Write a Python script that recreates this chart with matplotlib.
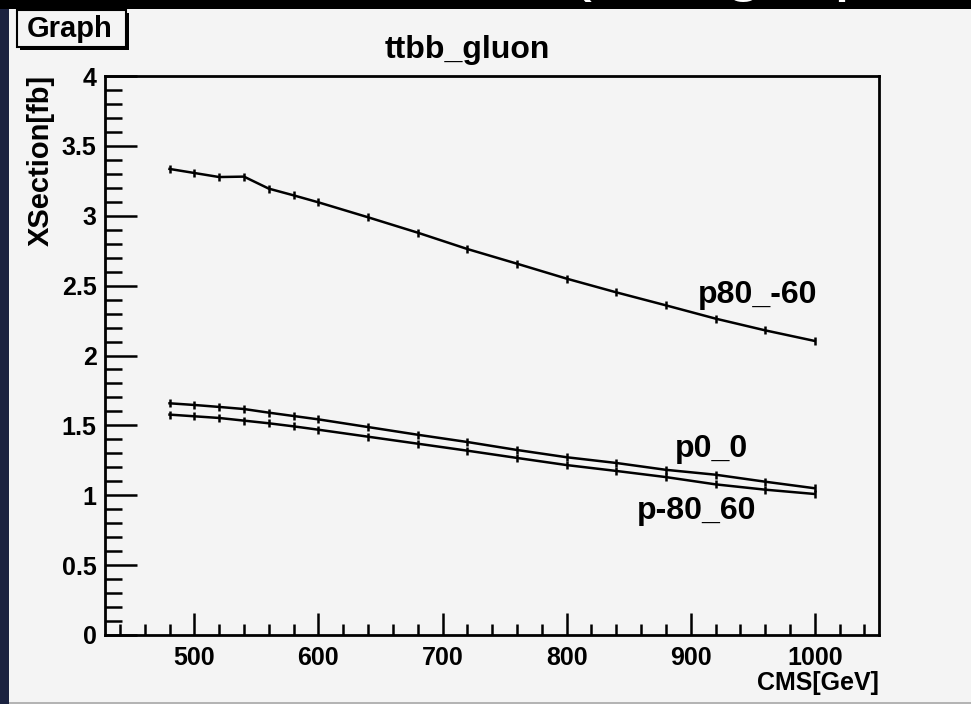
"""
plot.py — ttbb_gluon cross section vs CMS energy, ROOT-style TGraph look
"""

import matplotlib
matplotlib.use("Agg")
import matplotlib.pyplot as plt
from matplotlib.patches import Rectangle
from matplotlib.ticker import MultipleLocator

plt.rcParams["font.family"] = ["Liberation Sans", "DejaVu Sans"]
plt.rcParams["font.weight"] = "bold"

W, H = 971, 704

# ── Data ────────────────────────────────────────────────────────────────────
cms_gev = [480, 500, 520, 540, 560, 580, 600, 640, 680, 720, 760,
           800, 840, 880, 920, 960, 1000]
xsec_p80_m60 = [3.335, 3.306, 3.277, 3.280, 3.194, 3.146, 3.096, 2.989, 2.879,
                2.762, 2.657, 2.550, 2.452, 2.359, 2.264, 2.180, 2.104]
xsec_p0_0 = [1.658, 1.646, 1.632, 1.617, 1.591, 1.567, 1.543, 1.488, 1.433,
             1.381, 1.324, 1.272, 1.231, 1.182, 1.147, 1.097, 1.050]
xsec_m80_60 = [1.577, 1.565, 1.553, 1.534, 1.515, 1.493, 1.469, 1.419, 1.369,
               1.319, 1.267, 1.216, 1.174, 1.130, 1.078, 1.040, 1.009]
xsec_err = 0.028

series = [
    ("p80_-60", xsec_p80_m60, (906, 2.376)),
    ("p0_0",    xsec_p0_0,    (887, 1.271)),
    ("p-80_60", xsec_m80_60,  (857, 0.830)),
]

x_ticks = [500, 600, 700, 800, 900, 1000]
y_ticks = [0, 0.5, 1, 1.5, 2, 2.5, 3, 3.5, 4]
y_tick_labels = ["0", "0.5", "1", "1.5", "2", "2.5", "3", "3.5", "4"]


def fx(px):
    return px / W


def fy(py):
    return 1 - py / H


def bg_rect(x0, y0, x1, y1, color):
    # rectangle given in picture pixels (top-left origin), drawn behind the axes
    return Rectangle((fx(x0), fy(y1)), (x1 - x0) / W, (y1 - y0) / H,
                     transform=plt.gcf().transFigure, facecolor=color,
                     edgecolor="none", zorder=-5)


def main():
    fig = plt.figure(figsize=(W / 100, H / 100), dpi=100, facecolor="#1b2240")

    # ── Slide background + ROOT pad ─────────────────────────────────────────
    fig.patches.append(bg_rect(0, 0, W, 9, "black"))
    fig.patches.append(bg_rect(9, 9, W, 702, "#f4f4f4"))
    fig.patches.append(bg_rect(9, 702, W, H, "#b4b4b4"))

    # descenders of the slide title peeking into the black strip
    ax_top = fig.add_axes([0, fy(9), 1, 9 / H])
    ax_top.set_axis_off()
    ax_top.set_xlim(0, W)
    ax_top.set_ylim(9, 0)
    for ch, px in [("(", 568), ("g", 724), ("p", 833)]:
        ax_top.text(px, -13, ch, color="white", fontsize=52, fontweight="normal",
                    va="baseline", ha="left", clip_on=True)

    # ── Main frame ─────────────────────────────────────────────────────────
    left, right, top, bottom = 105, 879.3, 76, 635
    ax = fig.add_axes([fx(left), fy(bottom), (right - left) / W, (bottom - top) / H])
    ax.set_facecolor("#f4f4f4")
    ax.set_xlim(428, 1052)
    ax.set_ylim(0, 4)

    for label, ys, (tx, ty) in series:
        ax.errorbar(cms_gev, ys, yerr=xsec_err, color="black", lw=1.8,
                    elinewidth=1.8, capsize=0)
        ax.text(tx, ty, label, fontsize=23, fontweight="bold",
                ha="left", va="baseline")

    ax.xaxis.set_minor_locator(MultipleLocator(20))
    ax.set_xticks(x_ticks)
    ax.set_yticks(y_ticks)
    ax.set_yticklabels(y_tick_labels)
    ax.yaxis.set_minor_locator(MultipleLocator(0.1))
    ax.tick_params(axis="both", which="both", direction="in", width=1.8,
                   labelsize=18, top=False, right=False)
    ax.tick_params(axis="x", which="major", length=16, pad=8)
    ax.tick_params(axis="x", which="minor", length=8)
    ax.tick_params(axis="y", which="major", length=23, pad=6)
    ax.tick_params(axis="y", which="minor", length=12)
    for lab in ax.get_xticklabels() + ax.get_yticklabels():
        lab.set_fontweight("bold")
    for sp in ax.spines.values():
        sp.set_linewidth(2)

    # ── Titles ─────────────────────────────────────────────────────────────
    fig.text(fx(467), fy(58), "ttbb_gluon", fontsize=23, fontweight="bold",
             ha="center", va="baseline")
    fig.text(fx(879), fy(690), "CMS[GeV]", fontsize=18, fontweight="bold",
             ha="right", va="baseline")
    fig.text(fx(41), fy(75), "XSection[fb]", fontsize=21, fontweight="bold",
             rotation=90, ha="center", va="top")

    # "Graph" label box with shadow
    fig.patches.append(Rectangle((fx(20), fy(50)), 109 / W, 37 / H,
                                 transform=fig.transFigure, facecolor="black",
                                 edgecolor="none", zorder=2))
    fig.patches.append(Rectangle((fx(17), fy(47)), 109 / W, 37 / H,
                                 transform=fig.transFigure, facecolor="#f4f4f4",
                                 edgecolor="black", lw=1.5, zorder=3))
    fig.text(fx(70), fy(29), "Graph", fontsize=21, fontweight="bold",
             ha="center", va="center", zorder=4)

    fig.savefig("out.png", dpi=100, facecolor=fig.get_facecolor())
    plt.close(fig)


if __name__ == "__main__":
    main()
